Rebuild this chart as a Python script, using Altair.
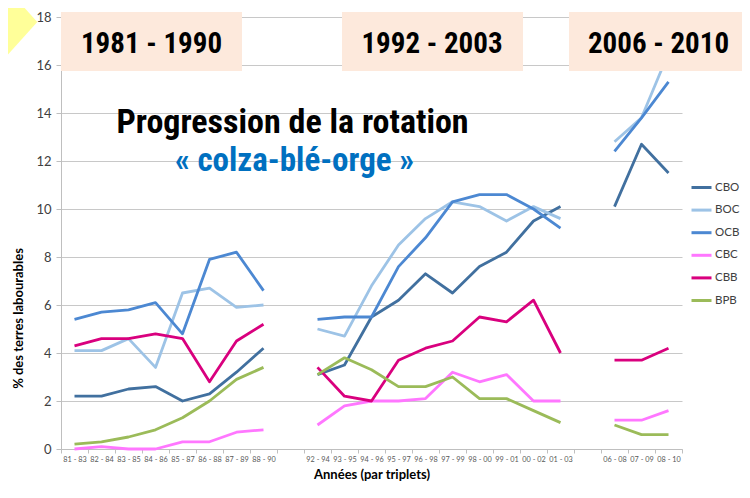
import json
import altair as alt
import pandas as pd

# ---------------- data ----------------
categories = ["81 - 83", "82 - 84", "83 - 85", "84 - 86", "85 - 87", "86 - 88", "87 - 89", "88 - 90", "",
              "92 - 94", "93 - 95", "94 - 96", "95 - 97", "96 - 98", "97 - 99", "98 - 00", "99 - 01",
              "00 - 02", "01 - 03", "",
              "06 - 08", "07 - 09", "08 - 10"]

series_names = ["CBO", "BOC", "OCB", "CBC", "CBB", "BPB"]
series_colors = ["#41709F", "#9DC3E6", "#4C88D2", "#FF77FF", "#D9007E", "#9BBB59"]

N = None
cbo = [2.2, 2.2, 2.5, 2.6, 2.0, 2.3, 3.2, 4.2, N,
       3.1, 3.5, 5.5, 6.2, 7.3, 6.5, 7.6, 8.2, 9.5, 10.1, N,
       10.1, 12.7, 11.5]
boc = [4.1, 4.1, 4.6, 3.4, 6.5, 6.7, 5.9, 6.0, N,
       5.0, 4.7, 6.8, 8.5, 9.6, 10.3, 10.1, 9.5, 10.1, 9.6, N,
       12.8, 13.8, 16.5]
ocb = [5.4, 5.7, 5.8, 6.1, 4.8, 7.9, 8.2, 6.6, N,
       5.4, 5.5, 5.5, 7.6, 8.8, 10.3, 10.6, 10.6, 10.0, 9.2, N,
       12.4, 13.8, 15.3]
cbc = [0.0, 0.1, 0.0, 0.0, 0.3, 0.3, 0.7, 0.8, N,
       1.0, 1.8, 2.0, 2.0, 2.1, 3.2, 2.8, 3.1, 2.0, 2.0, N,
       1.2, 1.2, 1.6]
cbb = [4.3, 4.6, 4.6, 4.8, 4.6, 2.8, 4.5, 5.2, N,
       3.4, 2.2, 2.0, 3.7, 4.2, 4.5, 5.5, 5.3, 6.2, 4.0, N,
       3.7, 3.7, 4.2]
bpb = [0.2, 0.3, 0.5, 0.8, 1.3, 2.0, 2.9, 3.4, N,
       3.1, 3.8, 3.3, 2.6, 2.6, 3.0, 2.1, 2.1, 1.6, 1.1, N,
       1.0, 0.6, 0.6]

period_titles = ["1981 - 1990", "1992 - 2003", "2006 - 2010"]
title_line1 = "Progression de la rotation"
title_line2 = "\u00ab colza-bl\u00e9-orge \u00bb"

# ---------------- long table ----------------
rows = []
for name, vals in zip(series_names, [cbo, boc, ocb, cbc, cbb, bpb]):
    seg = 0
    for i, v in enumerate(vals):
        if v is None:
            seg += 1
            continue
        rows.append({"serie": name, "pos": i + 0.5, "cat": categories[i],
                     "segment": seg, "valeur": v})
df = pd.DataFrame(rows)

W, H = 621, 432
band = W / len(categories)
label_js = json.dumps(categories)

FONT = "Lato"
NARROW = "Liberation Sans Narrow, Arial Narrow, Roboto Condensed, Liberation Sans, sans-serif"

lines = alt.Chart(df).mark_line(strokeWidth=2.8, strokeJoin="round").encode(
    x=alt.X("pos:Q",
            scale=alt.Scale(domain=[0, len(categories)], nice=False, zero=False),
            axis=alt.Axis(values=list(range(len(categories) + 1)),
                          labelExpr=f"{label_js}[datum.value] || ''",
                          labelOffset=band / 2, labelOverlap=False, labelFlush=False,
                          labelBound=False, labelFont=FONT, labelFontSize=7.3,
                          labelColor="#595959", labelPadding=2,
                          grid=False, tickSize=4, tickColor="#BFBFBF",
                          domainColor="#BFBFBF",
                          title="Ann\u00e9es (par triplets)", titleFont=FONT,
                          titleFontSize=13, titleFontWeight="bold", titleColor="#000000",
                          titlePadding=6)),
    y=alt.Y("valeur:Q",
            scale=alt.Scale(domain=[0, 18], nice=False),
            axis=alt.Axis(values=list(range(0, 19, 2)), grid=True, gridColor="#C8C8C8",
                          domainColor="#BFBFBF", tickColor="#BFBFBF", tickSize=5,
                          labelPadding=5, labelFont=FONT, labelFontSize=13,
                          labelColor="#404040",
                          title="% des terres labourables", titleFont=FONT,
                          titleFontSize=13, titleFontWeight="bold", titleColor="#000000",
                          titleX=-39, titleY=301, titleAngle=-90, titleAlign="center",
                          titleBaseline="alphabetic")),
    color=alt.Color("serie:N",
                    scale=alt.Scale(domain=series_names, range=series_colors),
                    sort=series_names,
                    legend=alt.Legend(title=None, orient="none", legendX=629, legendY=159,
                                      symbolType="stroke", symbolStrokeWidth=3,
                                      symbolSize=400, rowPadding=4.6, labelOffset=2,
                                      labelFont=FONT, labelFontSize=11.5,
                                      labelColor="#404040")),
    detail="segment:N",
    order="pos:Q",
)

one = alt.Data(values=[{"k": 1}])

layers = [lines]

# boxes with period titles (pixel layout relative to the plot area)
boxes = [(0, 181, 90.5), (281, 462, 371), (508, 688, 597.5)]
for (x0, x1, xc), t in zip(boxes, period_titles):
    layers.append(alt.Chart(one).mark_rect(color="#FDE9DC").encode(
        x=alt.value(x0), x2=alt.value(x1), y=alt.value(-5), y2=alt.value(54)))
    layers.append(alt.Chart(one).mark_text(font=NARROW, fontSize=29, fontWeight="bold",
                                           color="#000000", align="center",
                                           baseline="alphabetic").encode(
        x=alt.value(xc), y=alt.value(36), text=alt.value(t)))

layers.append(alt.Chart(one).mark_text(font=NARROW, fontSize=34, fontWeight="bold",
                                       color="#000000", align="center",
                                       baseline="alphabetic").encode(
    x=alt.value(231.5), y=alt.value(116), text=alt.value(title_line1)))
layers.append(alt.Chart(one).mark_text(font=NARROW, fontSize=33, fontWeight="bold",
                                       color="#0070C0", align="center",
                                       baseline="alphabetic").encode(
    x=alt.value(233.5), y=alt.value(154), text=alt.value(title_line2)))

# slide decorations: thin top border and yellow corner triangle
layers.append(alt.Chart(one).mark_rule(color="#9A9A9A", strokeWidth=1).encode(
    x=alt.value(-53), x2=alt.value(W + 60), y=alt.value(-14)))
layers.append(alt.Chart(one).mark_point(shape="M-0.45,-1L0.45,0L-0.45,1Z", filled=True,
                                        opacity=1, color="#FFFF99", size=9801,
                                        strokeWidth=0).encode(
    x=alt.value(-46), y=alt.value(5)))

chart = alt.layer(*layers).properties(
    width=W, height=H,
    autosize=alt.AutoSizeParams(type="none"),
    padding={"left": 53, "top": 9, "right": 60, "bottom": 38},
    background="#FFFFFF",
).configure_view(stroke=None)

chart.save("out.html", embed_options={"renderer": "svg", "actions": False})
